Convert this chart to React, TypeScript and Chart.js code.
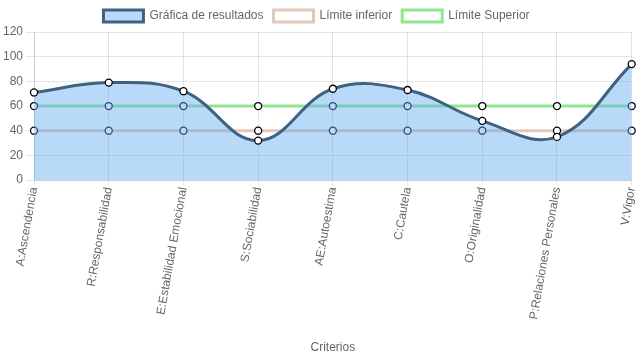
import React, { useEffect, useRef } from "react";
import { Chart, registerables } from "chart.js";

Chart.register(...registerables);

const categories = [
  "A:Ascendencia",
  "R:Responsabilidad",
  "E:Estabilidad Emocional",
  "S:Sociabilidad",
  "AE:Autoestima",
  "C:Cautela",
  "O:Originalidad",
  "P:Relaciones Personales",
  "V:Vigor",
];
const resultados = [71, 79, 72, 32, 74, 73, 48, 35, 94];
const limiteInferior = [40, 40, 40, 40, 40, 40, 40, 40, 40];
const limiteSuperior = [60, 60, 60, 60, 60, 60, 60, 60, 60];
const yTicks = [0, 20, 40, 60, 80, 100, 120];

export default function App() {
  const ref = useRef<HTMLCanvasElement>(null);
  useEffect(() => {
    const font = "'Liberation Sans', Arial, Helvetica, sans-serif";
    Chart.defaults.font.family = font;
    Chart.defaults.font.size = 12;
    Chart.defaults.color = "#666";
    const chart = new Chart(ref.current!, {
      type: "line",
      data: {
        labels: categories,
        datasets: [
          {
            label: "Gráfica de resultados",
            data: resultados,
            borderColor: "rgb(62,98,130)",
            backgroundColor: "rgba(100,170,240,0.45)",
            borderWidth: 3,
            fill: "origin",
            tension: 0.4,
            pointRadius: 3.5,
            pointBackgroundColor: "#fff",
            pointBorderColor: "#000",
            pointBorderWidth: 1.3,
          },
          {
            label: "Límite inferior",
            data: limiteInferior,
            borderColor: "rgb(228,200,188)",
            backgroundColor: "#fff",
            borderWidth: 3,
            fill: false,
            tension: 0.4,
            pointRadius: 3.5,
            pointBackgroundColor: "#fff",
            pointBorderColor: "#000",
            pointBorderWidth: 1.3,
          },
          {
            label: "Límite Superior",
            data: limiteSuperior,
            borderColor: "rgb(144,230,144)",
            backgroundColor: "#fff",
            borderWidth: 3,
            fill: false,
            tension: 0.4,
            pointRadius: 3.5,
            pointBackgroundColor: "#fff",
            pointBorderColor: "#000",
            pointBorderWidth: 1.3,
          },
        ],
      },
      options: {
        responsive: false,
        animation: false,
        maintainAspectRatio: false,
        layout: { padding: { right: 4 } },
        plugins: {
          legend: {
            position: "top",
            labels: { boxWidth: 40, boxHeight: 12, color: "#666", font: { size: 12 } },
          },
          tooltip: { enabled: false },
        },
        scales: {
          x: {
            offset: false,
            afterFit: (scale: any) => {
              scale.paddingRight = 0;
            },
            grid: { color: "rgba(0,0,0,0.1)", drawTicks: true, tickLength: 5 },
            ticks: { minRotation: 80, maxRotation: 80, autoSkip: false, padding: 1, color: "#666", font: { size: 12 } },
            title: { display: true, text: "Criterios", color: "#666", font: { size: 12 }, padding: { top: 19, bottom: 4 } },
          },
          y: {
            min: 0,
            max: 120,
            afterBuildTicks: (axis: any) => {
              axis.ticks = yTicks.map((v) => ({ value: v }));
            },
            grid: { color: "rgba(0,0,0,0.1)", tickLength: 8 },
            ticks: { color: "#666", font: { size: 12 } },
          },
        },
      },
    });
    return () => chart.destroy();
  }, []);
  return (
    <div style={{ position: "absolute", left: 0, top: 0, width: 637, height: 359 }}>
      <canvas ref={ref} width={637} height={359} />
    </div>
  );
}
